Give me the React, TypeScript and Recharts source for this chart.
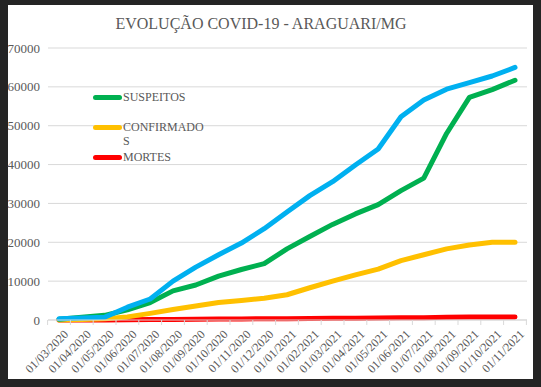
import React from 'react';
import { LineChart, Line, XAxis, YAxis, CartesianGrid } from 'recharts';

const months = [
  '01/03/2020', '01/04/2020', '01/05/2020', '01/06/2020', '01/07/2020', '01/08/2020', '01/09/2020',
  '01/10/2020', '01/11/2020', '01/12/2020', '01/01/2021', '01/02/2021', '01/03/2021', '01/04/2021',
  '01/05/2021', '01/06/2021', '01/07/2021', '01/08/2021', '01/09/2021', '01/10/2021', '01/11/2021',
];

const notificados = [
  300, 500, 700, 3300, 5400, 10000, 13600, 16800, 19800, 23500, 27800,
  32000, 35600, 39900, 44000, 52300, 56600, 59400, 61100, 62800, 65000,
];
const suspeitos = [
  200, 700, 1200, 2600, 4500, 7500, 9000, 11300, 13000, 14500, 18300,
  21500, 24600, 27300, 29700, 33300, 36500, 48000, 57300, 59300, 61700,
];
const confirmados = [
  0, 100, 300, 800, 1700, 2700, 3600, 4500, 5000, 5600, 6500,
  8300, 10000, 11600, 13100, 15300, 16800, 18300, 19300, 20000, 20000,
];
const mortes = [
  0, 5, 20, 50, 100, 150, 200, 250, 280, 300, 330,
  380, 420, 480, 520, 560, 600, 700, 750, 780, 800,
];

const yTicks = [0, 10000, 20000, 30000, 40000, 50000, 60000, 70000];

const data = months.map((m, i) => ({
  month: m,
  NOTIFICADOS: notificados[i],
  SUSPEITOS: suspeitos[i],
  CONFIRMADOS: confirmados[i],
  MORTES: mortes[i],
}));

const FONT = "'Times New Roman', 'Liberation Serif', Tinos, 'DejaVu Serif', serif";
const TEXT = '#595959';
const BAND = 22.8;

const legendItems = [
  { name: 'SUSPEITOS', color: '#00b050', top: 0 },
  { name: 'CONFIRMADOS', color: '#ffc000', top: 30 },
  { name: 'MORTES', color: '#ff0000', top: 60 },
];

const MonthTick = (props: any) => {
  const { x, y, payload, index } = props;
  return (
    <g>
      {index === 0 && <line x1={x - BAND / 2} x2={x - BAND / 2} y1={y} y2={y + 5} stroke="#d9d9d9" />}
      <line x1={x + BAND / 2} x2={x + BAND / 2} y1={y} y2={y + 5} stroke="#d9d9d9" />
      <g transform={`translate(${x + 10},${y + 15})`}>
        <text textAnchor="end" transform="rotate(-45)" fill={TEXT} fontSize={12} style={{ fontFamily: FONT }}>
          {payload.value}
        </text>
      </g>
    </g>
  );
};

export default function App() {
  return (
    <div style={{ position: 'fixed', left: 0, top: 0, width: 541, height: 387, background: '#242424', fontFamily: FONT }}>
      <div style={{ position: 'absolute', left: 8, top: 5, width: 525, height: 374, background: '#fff' }} />
      <div
        style={{
          position: 'absolute', left: 0, top: 14, width: 522, textAlign: 'center',
          fontFamily: FONT, fontSize: 16, color: TEXT, lineHeight: '20px',
        }}
      >
        EVOLUÇÃO COVID-19 - ARAGUARI/MG
      </div>
      <div style={{ position: 'absolute', left: 0, top: 0 }}>
        <LineChart width={541} height={387} data={data} margin={{ top: 48, right: 14, bottom: 7, left: 0 }} style={{ fontFamily: FONT }}>
          <CartesianGrid vertical={false} stroke="#d9d9d9" />
          <XAxis
            dataKey="month"
            interval={0}
            height={60}
            padding={{ left: 11, right: 12 }}
            tickLine={false}
            tickSize={0}
            tickMargin={0}
            stroke="#d9d9d9"
            tick={<MonthTick />}
          />
          <YAxis
            width={48}
            domain={[0, 70000]}
            ticks={yTicks}
            axisLine={false}
            tickLine={false}
            tickSize={0}
            tickMargin={8}
            tick={{ fill: TEXT, fontSize: 13, style: { fontFamily: FONT } }}
          />
          <Line dataKey="MORTES" stroke="#ff0000" strokeWidth={5} strokeLinecap="round" strokeLinejoin="round" dot={false} isAnimationActive={false} />
          <Line dataKey="CONFIRMADOS" stroke="#ffc000" strokeWidth={5} strokeLinecap="round" strokeLinejoin="round" dot={false} isAnimationActive={false} />
          <Line dataKey="SUSPEITOS" stroke="#00b050" strokeWidth={5} strokeLinecap="round" strokeLinejoin="round" dot={false} isAnimationActive={false} />
          <Line dataKey="NOTIFICADOS" stroke="#00b0f0" strokeWidth={5} strokeLinecap="round" strokeLinejoin="round" dot={false} isAnimationActive={false} />
        </LineChart>
      </div>
      <div style={{ position: 'absolute', left: 93, top: 90, width: 120, height: 80, fontFamily: FONT, fontSize: 12, color: TEXT }}>
        {legendItems.map((it) => (
          <div key={it.name} style={{ position: 'absolute', left: 0, top: it.top, display: 'flex', alignItems: 'flex-start' }}>
            <div style={{ width: 29, height: 5, borderRadius: 3, background: it.color, marginTop: 4.5 }} />
            <div style={{ width: 84, lineHeight: '14px', wordBreak: 'break-all', marginLeft: 1 }}>{it.name}</div>
          </div>
        ))}
      </div>
    </div>
  );
}
